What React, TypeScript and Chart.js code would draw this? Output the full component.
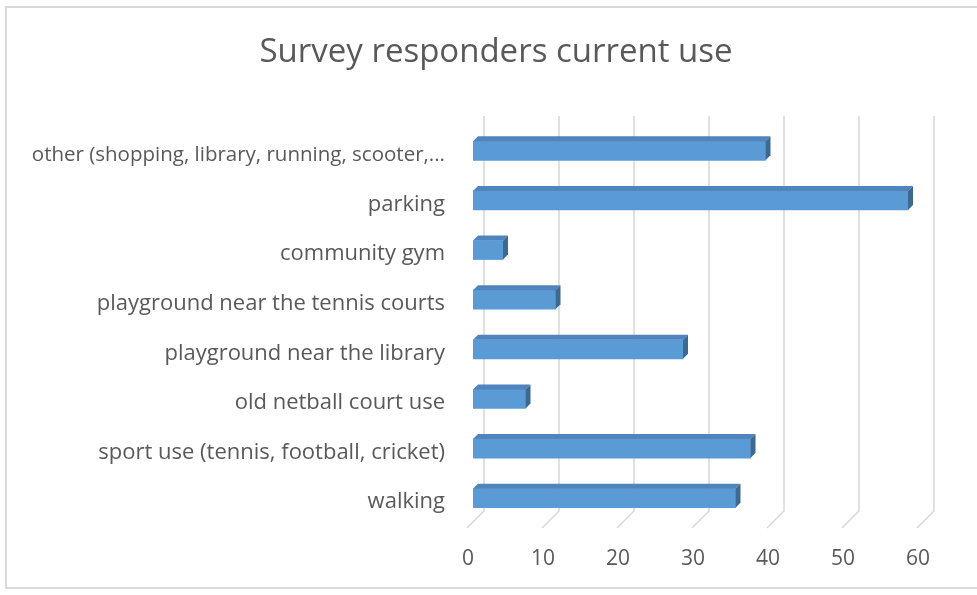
import { useEffect, useRef } from 'react';
import { Chart, registerables } from 'chart.js';

Chart.register(...registerables);

const titleText = 'Survey responders current use';
const categories = [
  'other (shopping, library, running, scooter,...',
  'parking',
  'community gym',
  'playground near the tennis courts',
  'playground near the library',
  'old netball court use',
  'sport use (tennis, football, cricket)',
  'walking',
];
const values = [39, 58, 4, 11, 28, 7, 37, 35];
const xTicks = [0, 10, 20, 30, 40, 50, 60];

const FONT = '"Open Sans", "Noto Sans", sans-serif';
const TEXT = '#595959';
const GRID = '#d9d9d9';

const threeD = {
  id: 'threeD',
  beforeDatasetsDraw(chart: any) {
    const { ctx, chartArea } = chart;
    const xs = chart.scales.x;
    ctx.save();
    ctx.strokeStyle = GRID;
    ctx.lineWidth = 1.6;
    xTicks.forEach((v) => {
      const xf = xs.getPixelForValue(v);
      ctx.beginPath();
      ctx.moveTo(xf + 11, chartArea.top - 10);
      ctx.lineTo(xf + 11, chartArea.bottom - 12);
      ctx.lineTo(xf - 6, chartArea.bottom + 5);
      ctx.stroke();
    });
    ctx.fillStyle = TEXT;
    ctx.font = `21px ${FONT}`;
    ctx.textAlign = 'center';
    ctx.textBaseline = 'middle';
    xTicks.forEach((v) => {
      const xf = xs.getPixelForValue(v);
      ctx.fillText(String(v), xf - 5, chartArea.bottom + 36);
    });
    ctx.restore();
  },
  afterDatasetsDraw(chart: any) {
    const { ctx } = chart;
    const meta = chart.getDatasetMeta(0);
    const d = 5;
    ctx.save();
    meta.data.forEach((bar: any) => {
      const { x, y, base, height } = bar.getProps(['x', 'y', 'base', 'height'], true);
      const top = y - height / 2;
      const bottom = y + height / 2;
      ctx.fillStyle = '#4f84bd';
      ctx.beginPath();
      ctx.moveTo(base, top);
      ctx.lineTo(base + d, top - d);
      ctx.lineTo(x + d, top - d);
      ctx.lineTo(x, top);
      ctx.closePath();
      ctx.fill();
      ctx.fillStyle = '#3d6890';
      ctx.beginPath();
      ctx.moveTo(x, top);
      ctx.lineTo(x + d, top - d);
      ctx.lineTo(x + d, bottom - d);
      ctx.lineTo(x, bottom);
      ctx.closePath();
      ctx.fill();
    });
    ctx.restore();
  },
  afterDraw(chart: any) {
    const { ctx, width, height } = chart;
    ctx.save();
    ctx.strokeStyle = GRID;
    ctx.lineWidth = 2;
    ctx.strokeRect(6, 7, width + 10, height - 14);
    ctx.fillStyle = TEXT;
    ctx.font = `33px ${FONT}`;
    ctx.textAlign = 'center';
    ctx.textBaseline = 'middle';
    ctx.fillText(titleText, 496, 53);
    ctx.restore();
  },
};

export default function App() {
  const ref = useRef<HTMLCanvasElement>(null);
  useEffect(() => {
    document.body.style.margin = '0';
    const chart = new Chart(ref.current!, {
      type: 'bar',
      data: {
        labels: categories,
        datasets: [
          {
            data: values,
            backgroundColor: '#5b9bd5',
            borderWidth: 0,
            barThickness: 19,
          },
        ],
      },
      options: {
        indexAxis: 'y',
        animation: false,
        responsive: false,
        layout: { padding: { left: 0, right: 54, top: 126, bottom: 72 } },
        plugins: { legend: { display: false }, title: { display: false }, tooltip: { enabled: false } },
        scales: {
          x: { display: false, min: 0, max: 60 },
          y: {
            grid: { display: false, drawTicks: false },
            border: { display: false },
            ticks: {
              color: TEXT,
              font: (c: any) => ({ family: FONT, size: c.index === 0 ? 20.5 : 22 }),
              padding: 28,
              labelOffset: 4,
            },
            afterFit: (s: any) => { s.width = 473; },
          },
        },
      },
      plugins: [threeD],
    });
    return () => chart.destroy();
  }, []);
  return <canvas ref={ref} width={977} height={595} style={{ display: 'block' }} />;
}
